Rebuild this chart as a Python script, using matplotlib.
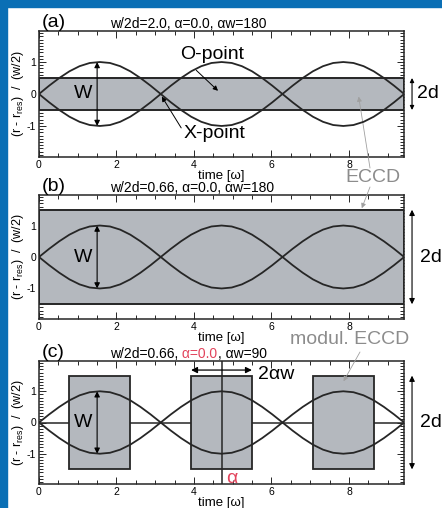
import matplotlib

matplotlib.use("Agg")

import matplotlib.pyplot as plt
import matplotlib.transforms as mtransforms
import numpy as np
from matplotlib.patches import Rectangle

plt.rcParams["font.family"] = ["Liberation Sans", "DejaVu Sans"]
plt.rcParams["mathtext.fontset"] = "custom"
plt.rcParams["mathtext.rm"] = "Liberation Sans"
plt.rcParams["mathtext.it"] = "Liberation Sans:italic"
plt.rcParams["axes.unicode_minus"] = False

# separatrix half-width (units of w/2), sampled every 15 degrees of time
TIME_DEG = np.arange(0, 541, 15)
SEPARATRIX = [
    0.0, 0.26, 0.5, 0.71, 0.87, 0.97, 1.0, 0.97, 0.87, 0.71, 0.5, 0.26, 0.0,
    0.26, 0.5, 0.71, 0.87, 0.97, 1.0, 0.97, 0.87, 0.71, 0.5, 0.26, 0.0,
    0.26, 0.5, 0.71, 0.87, 0.97, 1.0, 0.97, 0.87, 0.71, 0.5, 0.26, 0.0,
]

PANEL_LABELS = ["(a)", "(b)", "(c)"]
RED = "#e2445c"
TITLES = [
    [("w/2d=2.0, α=0.0, αw=180", "black")],
    [("w/2d=0.66, α=0.0, αw=180", "black")],
    [("w/2d=0.66,", "black"), (" α=0.0", RED), (", αw=90", "black")],
]
BAND_HALF = [0.5, 1.5]          # ECCD half-width, panels (a) and (b)
MOD_CENTERS = [1.57, 4.71, 7.85]  # modulated ECCD pulses, panel (c)
MOD_HALF_WIDTH = 0.785
MOD_HALF_HEIGHT = 1.5
ALPHA_PHASE = 4.71
XMAX = 9.42

GRAY_FILL = "#b4b8be"
LINE = "#262626"
LABEL_GRAY = "#8c8c8c"
BLUE = "#0a6fb5"

W, H = 442, 508
AX_BOXES = [(31, 157), (195, 319), (361, 484)]  # top, bottom in pixels
AX_LEFT, AX_RIGHT = 39, 404


def colored_title(ax, x, y, parts, size=10):
    fig = ax.figure
    renderer = fig.canvas.get_renderer()
    trans = ax.transAxes
    for text, color in parts:
        t = ax.text(x, y, text, color=color, transform=trans, fontsize=size, va="baseline")
        ext = t.get_window_extent(renderer)
        trans = mtransforms.offset_copy(t.get_transform(), fig=fig, x=ext.width, units="dots")


def double_arrow(ax, x, y0, y1, transform=None, scale=8):
    kw = {}
    if transform is not None:
        kw = dict(xycoords=transform, textcoords=transform)
    ax.annotate("", xy=(x, y1), xytext=(x, y0),
                arrowprops=dict(arrowstyle="<|-|>", lw=0.8, color="black",
                                mutation_scale=scale, shrinkA=0, shrinkB=0), **kw)


def pointer(ax, xy, xytext, color="black", textcoords="data", lw=0.7):
    ax.annotate("", xy=xy, xytext=xytext, textcoords=textcoords,
                arrowprops=dict(arrowstyle="-|>", lw=lw, color=color,
                                mutation_scale=7, shrinkA=0, shrinkB=0))


fig = plt.figure(figsize=(W / 100, H / 100), dpi=100, facecolor="white")
fig.patches.append(Rectangle((0, 0), 7 / W, 1, transform=fig.transFigure, color=BLUE, zorder=-5))
fig.patches.append(Rectangle((0, 1 - 7 / H), 1, 7 / H, transform=fig.transFigure, color=BLUE, zorder=-5))

time = np.radians(TIME_DEG)
upper = np.array(SEPARATRIX)
axes = []
for i, (top, bottom) in enumerate(AX_BOXES):
    ax = fig.add_axes([AX_LEFT / W, 1 - bottom / H, (AX_RIGHT - AX_LEFT) / W, (bottom - top) / H])
    axes.append(ax)
    ax.set_xlim(0, XMAX)
    ax.set_ylim(-1.97, 1.97)
    ax.set_xticks([0, 2, 4, 6, 8])
    ax.set_yticks([-1, 0, 1])
    ax.set_xticks(np.arange(0, 9.5, 0.5), minor=True)
    ax.set_yticks(np.arange(-1.9, 2.0, 0.1), minor=True)
    ax.tick_params(which="both", direction="in", top=True, right=True, labelsize=7.5,
                   width=0.7, color=LINE, pad=2)
    ax.tick_params(which="major", length=5)
    ax.tick_params(which="minor", length=3)
    for s in ax.spines.values():
        s.set_linewidth(1.1)
        s.set_color(LINE)
    ax.set_xlabel("time [ω]", fontsize=9.5, labelpad=0)
    ax.set_ylabel(r"(r - r$_{\mathrm{res}}$)  /  (w/2)", fontsize=9)
    ax.yaxis.set_label_coords(-0.035, 0.5)

    ax.plot(time, upper, color=LINE, lw=1.3, zorder=4)
    ax.plot(time, -upper, color=LINE, lw=1.3, zorder=4)

    ax.text(0.008, 1.03, PANEL_LABELS[i], transform=ax.transAxes, fontsize=14, va="baseline")
    colored_title(ax, 0.195, 1.022, TITLES[i], size=10)

    yt = mtransforms.blended_transform_factory(ax.transAxes, ax.transData)
    if i < 2:
        half = BAND_HALF[i]
        ax.axhspan(-half, half, facecolor=GRAY_FILL, edgecolor=LINE, lw=1.4, zorder=2)
        double_arrow(ax, 1.022, -half, half, transform=yt, scale=6 if i == 0 else 8)
        ax.text(1.035 if i == 0 else 1.045, 0, "2d", transform=yt, fontsize=14, va="center")
    else:
        ax.axhline(0, color=LINE, lw=1.1, zorder=1)
        for c in MOD_CENTERS:
            ax.add_patch(Rectangle((c - MOD_HALF_WIDTH, -MOD_HALF_HEIGHT), 2 * MOD_HALF_WIDTH,
                                   2 * MOD_HALF_HEIGHT, facecolor=GRAY_FILL, edgecolor=LINE,
                                   lw=1.3, zorder=2))
        double_arrow(ax, 1.022, -MOD_HALF_HEIGHT, MOD_HALF_HEIGHT, transform=yt)
        ax.text(1.045, 0, "2d", transform=yt, fontsize=14, va="center")
        ax.axvline(ALPHA_PHASE, color=LINE, lw=1.1, zorder=3)
        ax.text(ALPHA_PHASE + 0.13, -1.78, "α", color=RED, fontsize=14, va="center")
        ax.annotate("", xy=(MOD_CENTERS[1] + MOD_HALF_WIDTH, 1.68),
                    xytext=(MOD_CENTERS[1] - MOD_HALF_WIDTH, 1.68),
                    arrowprops=dict(arrowstyle="<|-|>", lw=0.9, color="black",
                                    mutation_scale=9, shrinkA=0, shrinkB=0))
        ax.text(5.66, 1.55, "2αw", fontsize=14, va="center")

    double_arrow(ax, 1.5, -1, 1)
    ax.text(1.15, 0, "W", fontsize=14, ha="center", va="center", zorder=5)

ax_a, ax_b, ax_c = axes
ax_a.text(4.47, 1.22, "O-point", fontsize=14, ha="center", va="center")
pointer(ax_a, (4.62, 0.1), (4.06, 0.74))
ax_a.text(4.52, -1.22, "X-point", fontsize=14, ha="center", va="center")
pointer(ax_a, (3.17, -0.08), (3.67, -1.06))

fig.text(372.5 / W, 1 - 177 / H, "ECCD", fontsize=14, color=LABEL_GRAY, ha="center", va="center")
pointer(ax_a, (8.25, -0.08), (370 / W, 1 - 168 / H), color="#a0a0a0",
        textcoords="figure fraction", lw=0.6)
pointer(ax_b, (8.33, 1.55), (370 / W, 1 - 187 / H), color="#a0a0a0",
        textcoords="figure fraction", lw=0.6)

fig.text(349.5 / W, 1 - 339 / H, "modul. ECCD", fontsize=14, color=LABEL_GRAY,
         ha="center", va="center")
pointer(ax_c, (7.86, 1.32), (360 / W, 1 - 352 / H), color="#a0a0a0",
        textcoords="figure fraction", lw=0.6)

fig.savefig("out.png", dpi=100, facecolor="white")
